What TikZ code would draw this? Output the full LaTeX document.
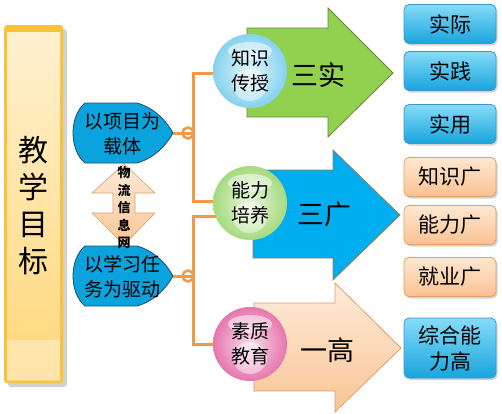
\documentclass[tikz,border=0pt]{standalone}
\usepackage{fontspec}
\setmainfont{Noto Sans CJK SC}
\usetikzlibrary{shadows}
\definecolor{barEdge}{HTML}{F8C23A}
\definecolor{barTop}{HTML}{FFF1CF}
\definecolor{barBot}{HTML}{FFD77A}
\definecolor{leafBlue}{HTML}{0AA3DD}
\definecolor{leafLine}{HTML}{1E4E6C}
\definecolor{connOr}{HTML}{F09A48}
\definecolor{arrGreen}{HTML}{92D050}
\definecolor{arrGreenLine}{HTML}{5E8A2E}
\definecolor{arrBlue}{HTML}{00AEEF}
\definecolor{arrBlueLine}{HTML}{9C7A50}
\definecolor{arrOrTop}{HTML}{FDEBDA}
\definecolor{arrOrBot}{HTML}{FAC594}
\definecolor{arrOrLine}{HTML}{D9A06C}
\definecolor{boxBlueTop}{HTML}{86DBF8}
\definecolor{boxBlueBot}{HTML}{17A5DD}
\definecolor{boxBlueLine}{HTML}{3C98CC}
\definecolor{boxOrTop}{HTML}{FEE7D2}
\definecolor{boxOrBot}{HTML}{FAC292}
\definecolor{boxOrLine}{HTML}{E3A064}
\definecolor{cBlueOut}{HTML}{86D2EF}
\definecolor{cBlueIn}{HTML}{E4F6FC}
\definecolor{cGreenOut}{HTML}{A6DA7E}
\definecolor{cGreenIn}{HTML}{EAF7DC}
\definecolor{cPinkOut}{HTML}{E776AE}
\definecolor{cPinkIn}{HTML}{FADCEB}
\begin{document}
\begin{tikzpicture}[x=1pt,y=-1pt,
  leafshape/.style={fill=leafBlue,draw=leafLine,line width=0.8pt},
  leaftext/.style={font=\fontsize{19}{25}\selectfont,align=center,inner sep=0pt},
  conn/.style={draw=connOr,line width=3pt},
  ring/.style={draw=connOr,line width=2.5pt},
  bigarrow/.style={line width=0.8pt,line join=miter},
  bigtext/.style={font=\fontsize{27}{30}\selectfont,inner sep=0pt},
  lens/.style={circle,minimum size=74pt,inner sep=0pt,align=center,
    font=\fontsize{19}{25}\selectfont},
  boxbase/.style={rounded corners=5pt,minimum width=92pt,minimum height=39pt,
    inner sep=0pt,align=center,font=\fontsize{21}{26}\selectfont,line width=0.8pt,
    drop shadow={opacity=0.35,shadow xshift=1.5pt,shadow yshift=-2pt}},
  bluebox/.style={boxbase,draw=boxBlueLine,top color=boxBlueTop,bottom color=boxBlueBot},
  orbox/.style={boxbase,draw=boxOrLine,top color=boxOrTop,bottom color=boxOrBot}
]
\useasboundingbox (0,0) rectangle (502,413);

% goal bar
\fill[black,opacity=0.18,rounded corners=3pt] (8,29) rectangle (67,387);
\fill[barEdge,rounded corners=3pt] (4,25) rectangle (63,383);
\shade[top color=barTop,bottom color=barBot] (7,32) rectangle (60,380);
\fill[white,opacity=0.35] (7,340) rectangle (60,380);
\node[font=\fontsize{30}{37}\selectfont,align=center,inner sep=0pt] (goal) at (33,206) {教\\学\\目\\标};

% up-down arrow
\shade[top color=arrOrTop,bottom color=arrOrBot,draw=arrOrLine,line width=0.6pt]
  (124,164) -- (155,193) -- (135,193) -- (135,213) -- (155,213) -- (124,245)
  -- (92,213) -- (113,213) -- (113,193) -- (92,193) -- cycle;

% leaves
\path[leafshape] (85,103) -- (137,103) .. controls (155,108) and (167,122) .. (173,133)
  .. controls (167,144) and (155,158) .. (137,163) -- (85,163)
  .. controls (69,150) and (69,116) .. cycle;
\coordinate (tip1) at (173,133);
\node[leaftext] (leaf1) at (122,134) {以项目为\\载体};
\path[leafshape] (85,246) -- (137,246) .. controls (155,251) and (167,265) .. (173,276)
  .. controls (167,287) and (155,301) .. (137,306) -- (85,306)
  .. controls (69,293) and (69,259) .. cycle;
\coordinate (tip2) at (173,276);
\node[leaftext] (leaf2) at (122,277) {以学习任\\务为驱动};

\node[font=\bfseries\fontsize{13}{17.5}\selectfont,align=center,inner sep=0pt] (wl) at (124,208) {物\\流\\信\\息\\网};

% big arrows
\path[bigarrow,fill=arrGreen,draw=arrGreenLine]
  (247,28) -- (328,28) -- (328,8) -- (393,73) -- (328,137) -- (328,117) -- (247,117) -- cycle;
\path[bigarrow,fill=arrBlue,draw=arrBlueLine]
  (253,170) -- (333,170) -- (333,150) -- (400,215) -- (333,280) -- (333,258) -- (253,258) -- cycle;
\shade[bigarrow,top color=arrOrTop,bottom color=arrOrBot,draw=arrOrLine]
  (254,303) -- (335,303) -- (335,283) -- (401,348) -- (335,412) -- (335,391) -- (254,391) -- cycle;
\node[bigtext] (t1) at (318,75) {三实};
\node[bigtext] (t2) at (324,214) {三广};
\node[bigtext] (t3) at (327,350) {一高};

% connectors
\coordinate (j1) at (193,133);
\coordinate (j2) at (193,276);
\coordinate (a1) at (193,73);
\coordinate (b1) at (193,201);
\coordinate (a2) at (193,216);
\coordinate (b2) at (193,344);
\coordinate (e1) at (220,73);
\coordinate (f1) at (220,201);
\coordinate (e2) at (220,216);
\coordinate (f2) at (220,344);
\draw[conn] (tip1) -- (j1);
\draw[conn] (tip2) -- (j2);
\draw[conn] (e1) -- (a1) -- (b1) -- (f1);
\draw[conn] (e2) -- (a2) -- (b2) -- (f2);
\node[ring,circle,minimum size=11pt,inner sep=0pt] (r1) at (188,133) {};
\node[ring,circle,minimum size=11pt,inner sep=0pt] (r2) at (188,276) {};

% lenses
\node[lens,inner color=cBlueIn,outer color=cBlueOut] (k1) at (250,71) {};
\node[lens,inner color=cGreenIn,outer color=cGreenOut] (k2) at (250,203) {};
\node[lens,inner color=cPinkIn,outer color=cPinkOut] (k3) at (250,344) {};
\foreach \c in {k1,k2,k3}{
  \fill[white,opacity=0.45] ([yshift=-14pt]\c.center) ellipse (17pt and 16pt);
  \fill[white,opacity=0.5] ([yshift=20pt]\c.center) ellipse (22pt and 9pt);
}
\node[lens] at (k1) {知识\\传授};
\node[lens] at (k2) {能力\\培养};
\node[lens] at (k3) {素质\\教育};

% result boxes
\node[bluebox] (s1) at (450,24) {实际};
\node[bluebox] (s2) at (450,71) {实践};
\node[bluebox] (s3) at (450,124) {实用};
\node[orbox] (g1) at (450,177) {知识广};
\node[orbox] (g2) at (450,225) {能力广};
\node[orbox] (g3) at (450,277) {就业广};
\node[bluebox,minimum height=60pt] (h1) at (450,348) {综合能\\力高};
\end{tikzpicture}
\end{document}
